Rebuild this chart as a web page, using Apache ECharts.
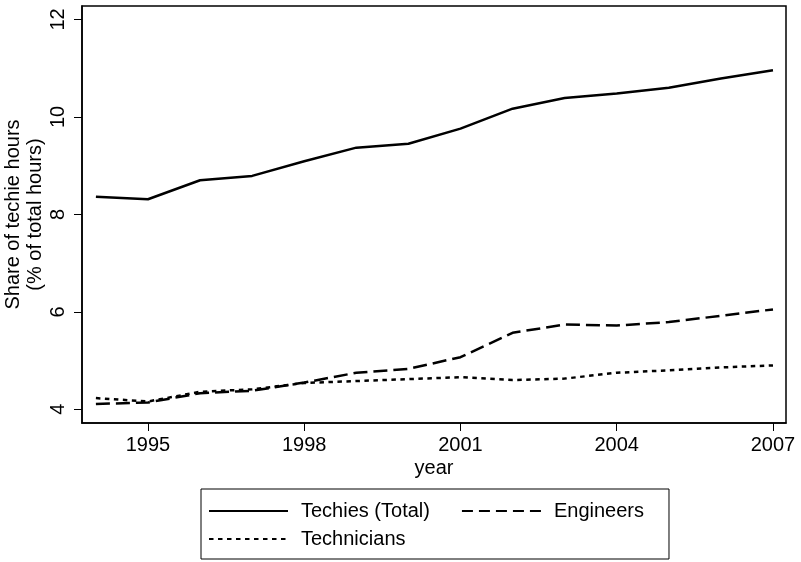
<!DOCTYPE html>
<html>
<head>
<meta charset="utf-8">
<script src="https://cdn.jsdelivr.net/npm/echarts@6/dist/echarts.min.js"></script>
<style>
html,body{margin:0;padding:0;background:#fff;}
#chart{width:801px;height:562px;}
</style>
</head>
<body>
<div id="chart"></div>
<script>
const years = [1994,1995,1996,1997,1998,1999,2000,2001,2002,2003,2004,2005,2006,2007];
const techies = [8.36,8.31,8.70,8.79,9.09,9.37,9.45,9.76,10.17,10.39,10.48,10.60,10.79,10.96];
const engineers = [4.11,4.14,4.33,4.38,4.55,4.75,4.83,5.07,5.57,5.74,5.72,5.79,5.92,6.05];
const technicians = [4.23,4.16,4.36,4.41,4.54,4.58,4.62,4.66,4.60,4.63,4.75,4.80,4.86,4.90];
const xTicks = [1995,1998,2001,2004,2007];
const yTicks = [4,6,8,10,12];
const seriesNames = ['Techies (Total)','Engineers','Technicians'];

const font = '"Liberation Sans", Arial, sans-serif';
const pair = arr => years.map((y,i)=>[y,arr[i]]);

const chart = echarts.init(document.getElementById('chart'), null, {renderer:'canvas'});
const legendText = {fontFamily:font,fontSize:20,color:'#000',lineHeight:24,padding:[0,0,0,8]};
chart.setOption({
  animation:false,
  backgroundColor:'#fff',
  textStyle:{fontFamily:font},
  grid:{left:82,right:15,top:6,bottom:139,containLabel:false,outerBoundsMode:'none',
        show:true,borderColor:'#000',borderWidth:1.5,backgroundColor:'#fff'},
  xAxis:{
    type:'value',min:1993.733,max:2007.25,
    name:'year',nameLocation:'middle',nameGap:35,nameMoveOverlap:false,
    nameTextStyle:{fontFamily:font,fontSize:20,color:'#000'},
    axisLine:{show:true,lineStyle:{color:'#000',width:1.5}},
    axisTick:{show:true,length:8,lineStyle:{color:'#000',width:1},customValues:xTicks},
    axisLabel:{fontFamily:font,fontSize:20,color:'#000',margin:12,customValues:xTicks,formatter:v=>String(v)},
    splitLine:{show:false}
  },
  yAxis:{
    type:'value',min:3.719,max:12.277,
    name:'Share of techie hours\n(% of total hours)',nameLocation:'middle',nameGap:36,nameMoveOverlap:false,
    nameTextStyle:{fontFamily:font,fontSize:20,color:'#000',lineHeight:22},
    axisLine:{show:true,lineStyle:{color:'#000',width:1.5}},
    axisTick:{show:true,length:8,lineStyle:{color:'#000',width:1},customValues:yTicks},
    axisLabel:{fontFamily:font,fontSize:20,color:'#000',margin:14,rotate:90,customValues:yTicks,formatter:v=>String(v)},
    splitLine:{show:false}
  },
  legend:[
    {
      data:[seriesNames[0],{name:seriesNames[1],lineStyle:{type:[11,6]}}],
      left:201,top:489,orient:'horizontal',
      itemWidth:79,itemHeight:14,itemGap:31,
      padding:[10,25,36,7],
      borderColor:'#000',borderWidth:1,
      itemStyle:{opacity:0},
      textStyle:legendText
    },
    {
      data:[seriesNames[2]],
      left:201,top:517,orient:'horizontal',
      itemWidth:79,itemHeight:14,
      padding:[10,0,0,7],
      itemStyle:{opacity:0},
      textStyle:legendText
    }
  ],
  series:[
    {name:seriesNames[0],type:'line',data:pair(techies),symbol:'none',
     lineStyle:{color:'#000',width:2.5,type:'solid'},itemStyle:{color:'#000'}},
    {name:seriesNames[1],type:'line',data:pair(engineers),symbol:'none',
     lineStyle:{color:'#000',width:2.5,type:[14,6]},itemStyle:{color:'#000'}},
    {name:seriesNames[2],type:'line',data:pair(technicians),symbol:'none',
     lineStyle:{color:'#000',width:2.5,type:[4.5,4.5]},itemStyle:{color:'#000'}}
  ]
});
</script>
</body>
</html>
